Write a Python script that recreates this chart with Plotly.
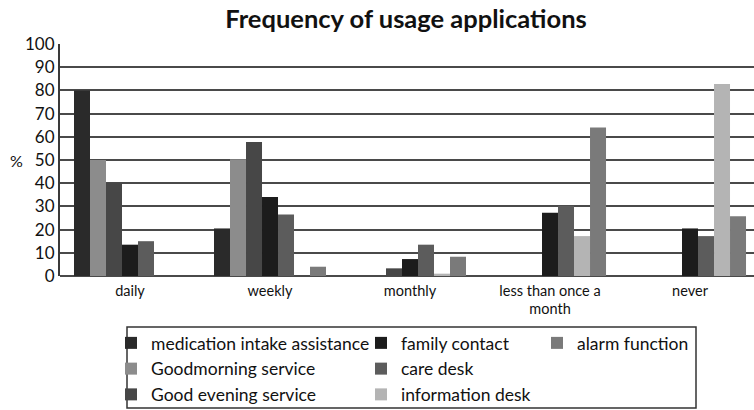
import plotly.graph_objects as go

# Usage frequency categories (x axis)
categories = ["daily", "weekly", "monthly", "less than once a<br>month", "never"]

# Percentage of users per application and frequency
medication_intake = [80, 20.5, 0, 0, 0]
goodmorning_service = [50, 50.3, 0, 0, 0]
good_evening_service = [40, 57.8, 3.3, 0, 0]
family_contact = [13.5, 34, 7.3, 27.3, 20.5]
care_desk = [15, 26.5, 13.5, 30.3, 17.2]
information_desk = [0, 0, 1, 17.2, 82.8]
alarm_function = [0, 4, 8.3, 64, 25.8]

series = [
    ("medication intake assistance", medication_intake, "#2a2a2a", "legend"),
    ("Goodmorning service", goodmorning_service, "#8c8c8c", "legend"),
    ("Good evening service", good_evening_service, "#474747", "legend"),
    ("family contact", family_contact, "#1c1c1c", "legend2"),
    ("care desk", care_desk, "#5c5c5c", "legend2"),
    ("information desk", information_desk, "#b4b4b4", "legend2"),
    ("alarm function", alarm_function, "#7a7a7a", "legend3"),
]

FONT = "Lato, 'Open Sans', sans-serif"
W, H = 754, 410
L, T, B = 60, 44, 134

fig = go.Figure()
for name, vals, color, leg in series:
    fig.add_trace(go.Bar(
        x=categories, y=vals, name=name, legend=leg,
        marker=dict(color=color, line=dict(width=0)),
    ))

legend_common = dict(
    xref="container", yref="container", xanchor="left", yanchor="top",
    orientation="v", traceorder="normal", bgcolor="rgba(0,0,0,0)",
    font=dict(family=FONT, size=17.5, color="#111111"), itemwidth=30,
    borderwidth=0,
)

fig.update_layout(
    width=W, height=H,
    margin=dict(l=L, r=0, t=T, b=B, autoexpand=False),
    paper_bgcolor="white", plot_bgcolor="white",
    barmode="group", bargap=0.2, bargroupgap=0,
    font=dict(family=FONT, size=15, color="#111111"),
    title=dict(
        text="<b>Frequency of usage applications</b>",
        x=406 / W, xanchor="center", y=1 - 19 / H, yanchor="middle",
        font=dict(family=FONT, size=25.5, color="#111"),
    ),
    xaxis=dict(
        range=[-0.5, 4.457], showgrid=False, showline=False,
        ticks="", ticklen=0, ticklabelstandoff=4,
        tickfont=dict(family=FONT, size=14.5, color="#111111"),
        fixedrange=True,
    ),
    yaxis=dict(
        range=[0, 100], dtick=10, showgrid=True, gridcolor="#4a4a4a",
        gridwidth=2, zeroline=True, zerolinecolor="#4a4a4a", zerolinewidth=2,
        showline=True, linecolor="#3a3a3a", linewidth=2,
        ticks="", ticklen=0, ticklabelstandoff=0,
        tickfont=dict(family=FONT, size=17, color="#111111"),
    ),
    legend=dict(legend_common, x=111 / W, y=1 - 325 / H),
    legend2=dict(legend_common, x=361 / W, y=1 - 325 / H),
    legend3=dict(legend_common, x=537 / W, y=1 - 325 / H),
    annotations=[
        dict(text="%", xref="paper", yref="paper", x=-0.062, y=(276 - 160) / 232,
             showarrow=False, xanchor="center", yanchor="middle",
             font=dict(family=FONT, size=16, color="#111111")),
    ],
    shapes=[
        dict(type="rect", xref="paper", yref="paper",
             x0=(127 - L) / 694, x1=(696 - L) / 694,
             y0=(276 - 408) / 232, y1=(276 - 327) / 232,
             line=dict(color="#333333", width=1.5), fillcolor="rgba(0,0,0,0)"),
    ],
)

fig.write_html("out.html")
